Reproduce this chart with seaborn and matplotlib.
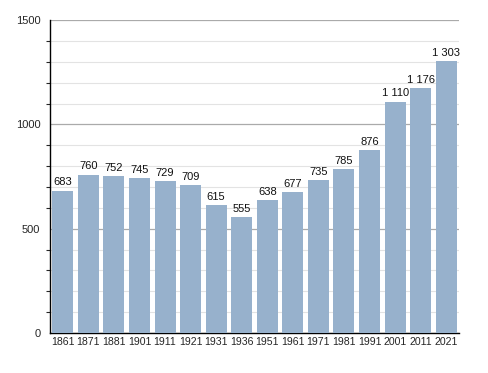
import matplotlib
matplotlib.use("Agg")
import matplotlib.pyplot as plt
import seaborn as sns
import pandas as pd
from matplotlib.ticker import MultipleLocator

# Data
years = ["1861", "1871", "1881", "1901", "1911", "1921", "1931", "1936",
         "1951", "1961", "1971", "1981", "1991", "2001", "2011", "2021"]
population = [683, 760, 752, 745, 729, 709, 615, 555,
              638, 677, 735, 785, 876, 1110, 1176, 1303]

df = pd.DataFrame({"year": years, "pop": population})

sns.set_style("white")
plt.rcParams['font.family'] = ['Liberation Sans', 'DejaVu Sans']

fig = plt.figure(figsize=(4.88, 3.73), dpi=100)
ax = fig.add_axes([0.1025, 0.107, 0.838, 0.839])

sns.barplot(data=df, x="year", y="pop", color="#97b1cc", width=0.82,
            saturation=1, linewidth=0, ax=ax, zorder=3)

ax.set_ylim(0, 1500)
ax.set_xlim(-0.5, len(years) - 0.5)
ax.yaxis.set_major_locator(MultipleLocator(500))
ax.yaxis.set_minor_locator(MultipleLocator(100))
ax.grid(axis="y", which="major", color="#aaaaaa", linewidth=0.9, zorder=0)
ax.grid(axis="y", which="minor", color="#e3e3e3", linewidth=0.8, zorder=0)
ax.set_axisbelow(True)

for s in ["top", "right"]:
    ax.spines[s].set_visible(False)
ax.spines["left"].set_color("black")
ax.spines["bottom"].set_color("black")
ax.spines["left"].set_linewidth(1.0)
ax.spines["bottom"].set_linewidth(1.0)

ax.tick_params(axis="y", which="major", length=5, width=0.8, labelsize=8, pad=2)
ax.tick_params(axis="y", which="minor", length=3, width=0.8, left=True)
ax.tick_params(axis="x", length=0, labelsize=7.6, pad=3)
ax.set_xlabel("")
ax.set_ylabel("")

for i, v in enumerate(population):
    label = f"{v:,}".replace(",", " ")
    ax.text(i, v + 15, label, ha="center", va="bottom", fontsize=8, color="#111111")

fig.savefig("out.png", dpi=100)
